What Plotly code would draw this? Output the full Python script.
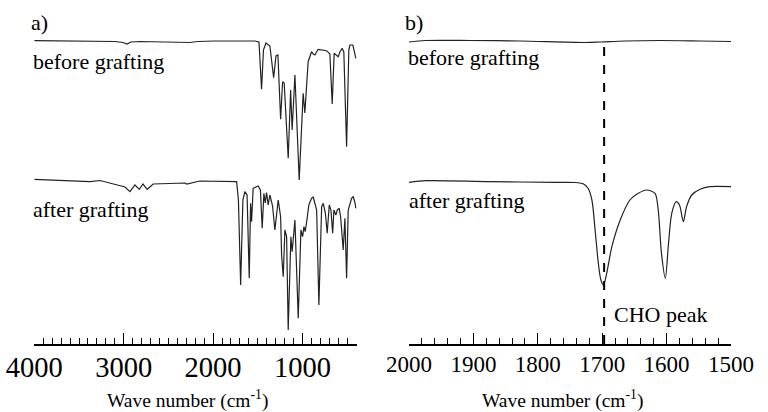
import plotly.graph_objects as go

# ---------------- data ----------------
# Panel a: full range spectra, transmittance in arbitrary units
before_a_wn = [4000, 3377, 3098, 3008, 2964, 2919, 2819, 2260, 2170, 1979, 1644, 1532, 1487, 1458,
               1437, 1409, 1365, 1323, 1297, 1275, 1245, 1223, 1205, 1160, 1133, 1116, 1085, 1037,
               993, 974, 937, 899, 879, 862, 825, 784, 731, 694, 668, 646, 627, 601, 582, 557, 538,
               507, 482, 470, 437, 403]
before_a_T = [163.3, 163, 162.5, 161.5, 160, 162, 162.5, 161.5, 162.5, 163, 163.5, 163, 162, 114.7,
              154, 161, 158, 126.3, 148, 149, 84.7, 122.3, 121, 45.7, 114, 74, 129, 24,
              110.7, 91, 142.3, 152.3, 150, 149, 154.7, 154, 153.3, 150, 100, 150.7, 149, 147.3, 152,
              155.7, 152, 57.3, 154, 159, 159, 145.7]

after_a_wn = [4000, 3377, 3265, 3064, 2986, 2930, 2874, 2826, 2785, 2737, 2670, 2315, 2293, 2148, 1737,
              1717, 1692, 1667, 1645, 1620, 1596, 1581, 1570, 1552, 1496, 1471, 1451, 1432, 1417, 1402,
              1384, 1365, 1335, 1309, 1272, 1245, 1234, 1216, 1197, 1178, 1160, 1130, 1116, 1085, 1048,
              1018, 999, 984, 970, 951, 929, 899, 880, 842, 817, 786, 768, 744, 724, 701,
              682, 663, 649, 627, 612, 590, 574, 545, 526, 507, 489, 451, 434, 415, 403]
after_a_T = [164.7, 162.3, 163.5, 159, 157, 152.3, 159, 154.7, 160, 154.7, 160, 161, 160, 163, 162.3,
             144, 59, 144, 152.3, 149, 65.7, 140.7, 122.3, 155.7, 158, 154, 115.7, 150.7, 141, 151.3,
             139, 149, 138, 114, 144, 127.3, 89, 67.3, 114, 107.3, 14, 107.3, 92.3, 124, 25.7,
             114, 107.3, 117.3, 112.3, 124, 139, 145.7, 147, 134, 39, 137.3, 140.7, 130.7, 110.7, 139,
             134, 110.7, 134, 129, 134, 135.7, 127.3, 94, 125.7, 65.7, 134, 145.7, 147.3, 142, 135.7]

# Panel b: zoom 2000-1500 cm-1
before_b_wn = [2000, 1975, 1905, 1828, 1727, 1703, 1665, 1610, 1548, 1500]
before_b_T = [162, 163.5, 163.5, 163, 161.5, 162, 163, 163.5, 163, 162.5]

after_b_wn = [2000, 1973, 1874, 1772, 1742, 1729, 1722, 1716, 1711, 1706, 1702, 1698, 1693, 1685, 1672,
              1657, 1644, 1631, 1618, 1613, 1608, 1602, 1597, 1592, 1585, 1580, 1574, 1569, 1561, 1548,
              1533, 1500]
after_b_T = [161.7, 163.3, 162.3, 161.7, 161.5, 160, 155.7, 144, 114, 80.7, 64, 59, 70.7, 97.3, 124,
             144, 150.7, 154, 150.7, 134, 90.7, 65.7, 100.7, 130.7, 142.3, 139, 122.3, 137.3, 149, 154.7,
             157.3, 157.3]

cho_peak_wn = 1697
ticks_a = [4000, 3000, 2000, 1000]
ticks_a_half = [3500, 2500, 1500, 500]   # unlabeled major ticks
ticks_b = [2000, 1900, 1800, 1700, 1600, 1500]

OFFSET = 140  # vertical stacking offset of the "before grafting" traces

# ---------------- figure ----------------
FONT = "Liberation Serif, Times New Roman, serif"
LINE = dict(color="#222222", width=1.2)

fig = go.Figure()
fig.add_trace(go.Scatter(x=before_a_wn, y=[v + OFFSET for v in before_a_T], mode="lines",
                         line=LINE, xaxis="x", yaxis="y"))
fig.add_trace(go.Scatter(x=after_a_wn, y=after_a_T, mode="lines", line=LINE, xaxis="x", yaxis="y"))
fig.add_trace(go.Scatter(x=before_b_wn, y=[v + OFFSET for v in before_b_T], mode="lines",
                         line=dict(LINE, shape="spline", smoothing=0.8), xaxis="x2", yaxis="y2"))
fig.add_trace(go.Scatter(x=after_b_wn, y=after_b_T, mode="lines",
                         line=dict(LINE, shape="spline", smoothing=0.8), xaxis="x2", yaxis="y2"))

W, H, B = 768, 412, 68
PH = H - B  # plot-area height in px


def px_x(p):
    return p / W


def px_py(p):
    return (PH - p) / PH


axis_common = dict(showline=True, linecolor="black", linewidth=1.5, ticks="inside",
                   ticklen=11, tickwidth=1.3, tickcolor="black", showgrid=False, zeroline=False,
                   mirror=False, tickmode="array", automargin=False)

dom_a = [34.3 / W, 356.7 / W]
range_a = [4000, 394]

fig.update_layout(
    template="none",
    width=W, height=H,
    margin=dict(l=0, r=0, t=0, b=B, pad=0),
    paper_bgcolor="white", plot_bgcolor="white",
    showlegend=False,
    font=dict(family=FONT, color="black"),
    xaxis=dict(axis_common, domain=dom_a, range=range_a,
               tickvals=ticks_a, tickfont=dict(size=28.5, family=FONT),
               ticklabelstandoff=-3,
               minor=dict(tickmode="linear", tick0=0, dtick=100, ticks="inside", ticklen=6,
                          tickwidth=1.2, tickcolor="black"),
               anchor="y"),
    xaxis3=dict(axis_common, domain=dom_a, range=range_a, showline=False,
                tickvals=ticks_a_half, showticklabels=False, overlaying="x", anchor="y"),
    xaxis2=dict(axis_common, domain=[409 / W, 731 / W], range=[2000, 1500],
                tickvals=ticks_b, tickfont=dict(size=23, family=FONT),
                ticklabelstandoff=-1,
                minor=dict(tickmode="linear", tick0=0, dtick=20, ticks="inside", ticklen=6,
                           tickwidth=1.2, tickcolor="black"),
                anchor="y2"),
    yaxis=dict(domain=[0, 1], range=[0, PH], visible=False, anchor="x", automargin=False),
    yaxis2=dict(domain=[0, 1], range=[0, PH], visible=False, anchor="x2", automargin=False),
)

fig.add_shape(type="line", xref="x2", yref="y2", x0=cho_peak_wn, x1=cho_peak_wn,
              y0=0, y1=PH - 40, line=dict(color="black", width=2, dash="dash"))

ann = [
    ("a)", 29, 22, 22, "left"),
    ("b)", 403, 22, 22, "left"),
    ("before grafting", 31, 62, 22, "left"),
    ("after grafting", 31, 209, 22, "left"),
    ("before grafting", 406, 58, 22, "left"),
    ("after grafting", 407, 201, 22, "left"),
    ("CHO peak", 612, 314, 22, "left"),
    ("Wave number (cm<sup>-1</sup>)", 187, 399, 19.5, "center"),
    ("Wave number (cm<sup>-1</sup>)", 562, 399, 19.5, "center"),
]
for text, x, y, size, xa in ann:
    fig.add_annotation(text=text, x=px_x(x), y=px_py(y), xref="paper", yref="paper",
                       xanchor=xa, yanchor="middle", showarrow=False,
                       font=dict(size=size, family=FONT, color="black"))

fig.write_html("out.html", config={"displayModeBar": False},
               post_script="document.body.style.margin='0px';document.body.style.overflow='hidden';")
